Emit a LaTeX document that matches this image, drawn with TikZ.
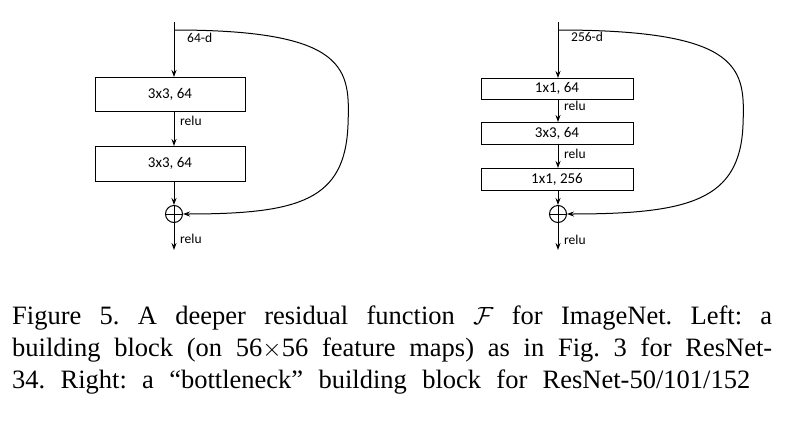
\documentclass[tikz,border=0pt]{standalone}
\usepackage{fontspec}
\setmainfont{Liberation Serif}
\newfontfamily\boxfont{Carlito}
\usetikzlibrary{arrows.meta}
\begin{document}
\frenchspacing
\begin{tikzpicture}[x=1pt,y=-1pt,
  blk/.style={draw,line width=1pt,minimum width=150pt,inner sep=0pt,font=\boxfont\fontsize{15}{15}\selectfont},
  lbl/.style={font=\boxfont\fontsize{13.5}{13.5}\selectfont,anchor=west,inner sep=1pt},
  arr/.style={-{Stealth[length=7pt,width=5pt]},line width=1pt},
  sum/.style={draw,circle,line width=1pt,minimum size=17pt,inner sep=0pt},
  captext/.style={anchor=west,inner sep=0pt,font=\fontsize{26.5}{26.5}\selectfont}]
\useasboundingbox (0,0) rectangle (801,421);
% left
\coordinate (L0) at (174,22);
\node[blk,minimum height=34pt] (L1) at (170,94) {3x3, 64};
\node[blk,minimum height=35pt] (L2) at (170,163.5) {3x3, 64};
\node[sum] (Ls) at (174,214) {};
\draw[line width=1pt] (Ls.north)--(Ls.south) (Ls.west)--(Ls.east);
\coordinate (Le) at (174,250);
\draw[arr] (L0) -- (174,77);
\draw[arr] (174,111) -- (174,146);
\draw[arr] (174,181) -- (Ls.north);
\draw[arr] (Ls.south) -- (Le);
\node[lbl] (Ld) at (186,38) {64-d};
\node[lbl] (Lr1) at (179,121) {relu};
\node[lbl] (Lr2) at (179,239) {relu};
\draw[arr] (174,30) .. controls (350,30) and (350,70) .. (348,125) .. controls (345,200) and (300,214) .. (Ls.east);
% right
\coordinate (R0) at (558,22);
\node[blk,minimum width=152pt,minimum height=21pt] (R1) at (557,88.5) {1x1, 64};
\node[blk,minimum width=152pt,minimum height=22pt] (R2) at (557,133) {3x3, 64};
\node[blk,minimum width=152pt,minimum height=22pt] (R3) at (557,179) {1x1, 256};
\node[sum] (Rs) at (558,214) {};
\draw[line width=1pt] (Rs.north)--(Rs.south) (Rs.west)--(Rs.east);
\coordinate (Re) at (558,250);
\draw[arr] (R0) -- (558,78);
\draw[arr] (558,99) -- (558,122);
\draw[arr] (558,144) -- (558,168);
\draw[arr] (558,190) -- (Rs.north);
\draw[arr] (Rs.south) -- (Re);
\node[lbl] (Rd) at (570,37) {256-d};
\node[lbl] (Rr1) at (563,106) {relu};
\node[lbl] (Rr2) at (563,154) {relu};
\node[lbl] (Rr3) at (563,240) {relu};
\draw[arr] (558,30) .. controls (745,30) and (745,70) .. (743,125) .. controls (740,200) and (690,214) .. (Rs.east);
% caption
\node[captext] (c1) at (12,318) {\makebox[760pt][s]{Figure 5. A deeper residual function $\mathcal{F}$ for ImageNet. Left: a}};
\node[captext] (c2) at (12,350) {\makebox[760pt][s]{building block (on 56$\times$56 feature maps) as in Fig. 3 for ResNet-}};
\node[captext] (c3) at (12,382) {\makebox[738pt][s]{34. Right: a ``bottleneck'' building block for ResNet-50/101/152}};
\end{tikzpicture}
\end{document}
